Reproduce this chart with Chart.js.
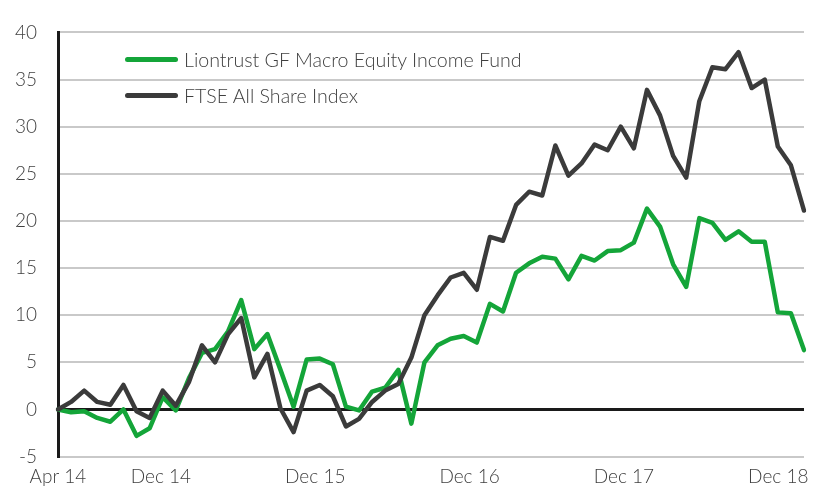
<!DOCTYPE html>
<html>
<head>
<meta charset="utf-8">
<script src="https://cdn.jsdelivr.net/npm/chart.js"></script>
<style>
html,body{margin:0;padding:0;background:#fff;}
#wrap{position:relative;width:813px;height:489px;overflow:hidden;}
#legend{position:absolute;left:125px;top:41px;font-family:Lato,"Open Sans",sans-serif;font-weight:300;font-size:19.6px;color:#3f3f3f;}
#legend .item{display:flex;align-items:center;height:36px;white-space:nowrap;}
#legend .swatch{display:inline-block;width:53px;height:5px;border-radius:3px;margin-right:6px;}
</style>
</head>
<body>
<div id="wrap">
<canvas id="c" width="813" height="489"></canvas>
<div id="legend"></div>
</div>
<script>
// Categories (monthly, Apr 14 .. Jan 19)
const months = [
  'Apr 14','May 14','Jun 14','Jul 14','Aug 14','Sep 14','Oct 14','Nov 14','Dec 14',
  'Jan 15','Feb 15','Mar 15','Apr 15','May 15','Jun 15','Jul 15','Aug 15','Sep 15','Oct 15','Nov 15','Dec 15',
  'Jan 16','Feb 16','Mar 16','Apr 16','May 16','Jun 16','Jul 16','Aug 16','Sep 16','Oct 16','Nov 16','Dec 16',
  'Jan 17','Feb 17','Mar 17','Apr 17','May 17','Jun 17','Jul 17','Aug 17','Sep 17','Oct 17','Nov 17','Dec 17',
  'Jan 18','Feb 18','Mar 18','Apr 18','May 18','Jun 18','Jul 18','Aug 18','Sep 18','Oct 18','Nov 18','Dec 18',
  'Jan 19'
];
// Label slots of the date axis (one slot beyond the data, as in the original axis)
const axisMonths = months.concat(['Feb 19']);
// Tick labels shown
const tickLabels = ['Apr 14','Dec 14','Dec 15','Dec 16','Dec 17','Dec 18'];

// Series (cumulative % performance)
const liontrust = [
  0, -0.3, -0.2, -0.9, -1.3, 0, -2.8, -2.0, 1.3,
  -0.1, 3.3, 6.0, 6.4, 8.3, 11.6, 6.4, 8.0, 4.2, 0.3, 5.3, 5.4,
  4.8, 0.3, -0.1, 1.9, 2.3, 4.2, -1.5, 5.0, 6.8, 7.5, 7.8, 7.1,
  11.2, 10.4, 14.5, 15.5, 16.2, 16.0, 13.8, 16.3, 15.8, 16.8, 16.9, 17.7,
  21.3, 19.4, 15.4, 13.0, 20.3, 19.8, 18.0, 18.9, 17.8, 17.8, 10.3, 10.2,
  6.3
];
const ftse = [
  0, 0.8, 2.0, 0.8, 0.5, 2.6, -0.2, -0.9, 2.0,
  0.4, 2.9, 6.8, 5.0, 8.0, 9.7, 3.4, 5.9, 0.1, -2.4, 2.0, 2.6,
  1.4, -1.8, -1.0, 0.8, 2.0, 2.7, 5.5, 10.0, 12.1, 14.0, 14.5, 12.7,
  18.3, 17.9, 21.7, 23.1, 22.7, 28.0, 24.8, 26.1, 28.1, 27.5, 30.0, 27.7,
  33.9, 31.2, 26.9, 24.6, 32.7, 36.3, 36.1, 37.9, 34.1, 35.0, 27.9, 25.9,
  21.1
];
const seriesNames = ['Liontrust GF Macro Equity Income Fund', 'FTSE All Share Index'];
const seriesColors = ['#14a539', '#3b3b3b'];

const tickFont = {family: 'Lato, "Open Sans", sans-serif', size: 19, weight: '300'};
const textColor = '#3f3f3f';

const chart = new Chart(document.getElementById('c').getContext('2d'), {
  type: 'line',
  data: {
    labels: months,
    datasets: [
      {label: seriesNames[0], data: liontrust, borderColor: seriesColors[0], backgroundColor: seriesColors[0],
       borderWidth: 4.5, pointRadius: 0, tension: 0, borderJoinStyle: 'round', borderCapStyle: 'round', order: 2, xAxisID: 'x'},
      {label: seriesNames[1], data: ftse, borderColor: seriesColors[1], backgroundColor: seriesColors[1],
       borderWidth: 4.5, pointRadius: 0, tension: 0, borderJoinStyle: 'round', borderCapStyle: 'round', order: 1, xAxisID: 'x'}
    ]
  },
  options: {
    responsive: false,
    animation: false,
    maintainAspectRatio: false,
    layout: {padding: {top: 27, right: 8, left: 0, bottom: 0}},
    plugins: {legend: {display: false}, tooltip: {enabled: false}},
    scales: {
      x: {type: 'category', display: false, offset: false},
      xl: {
        type: 'category', labels: axisMonths, position: 'bottom', offset: false,
        grid: {display: false, drawTicks: false}, border: {display: false},
        ticks: {
          autoSkip: false, maxRotation: 0, minRotation: 0, padding: 9, color: textColor, font: tickFont,
          callback: function (v, i) { const l = axisMonths[i]; return tickLabels.includes(l) ? l : ''; }
        },
        afterFit: function (s) { s.height = 30; }
      },
      y: {
        min: -5, max: 40,
        ticks: {stepSize: 5, padding: 21, color: textColor, font: tickFont},
        grid: {
          color: function (c) { return c.tick && c.tick.value === 0 ? '#1a1a1a' : '#c9c9c9'; },
          lineWidth: function (c) { return c.tick && c.tick.value === 0 ? 3 : 2; },
          drawTicks: false
        },
        border: {display: true, color: '#1a1a1a', width: 3},
        afterFit: function (s) { s.width = 58; }
      }
    }
  }
});

// Legend (HTML, built from the datasets)
const leg = document.getElementById('legend');
chart.data.datasets.forEach(function (ds) {
  const row = document.createElement('div');
  row.className = 'item';
  const sw = document.createElement('span');
  sw.className = 'swatch';
  sw.style.background = ds.borderColor;
  const tx = document.createElement('span');
  tx.textContent = ds.label;
  row.appendChild(sw);
  row.appendChild(tx);
  leg.appendChild(row);
});
</script>
</body>
</html>
